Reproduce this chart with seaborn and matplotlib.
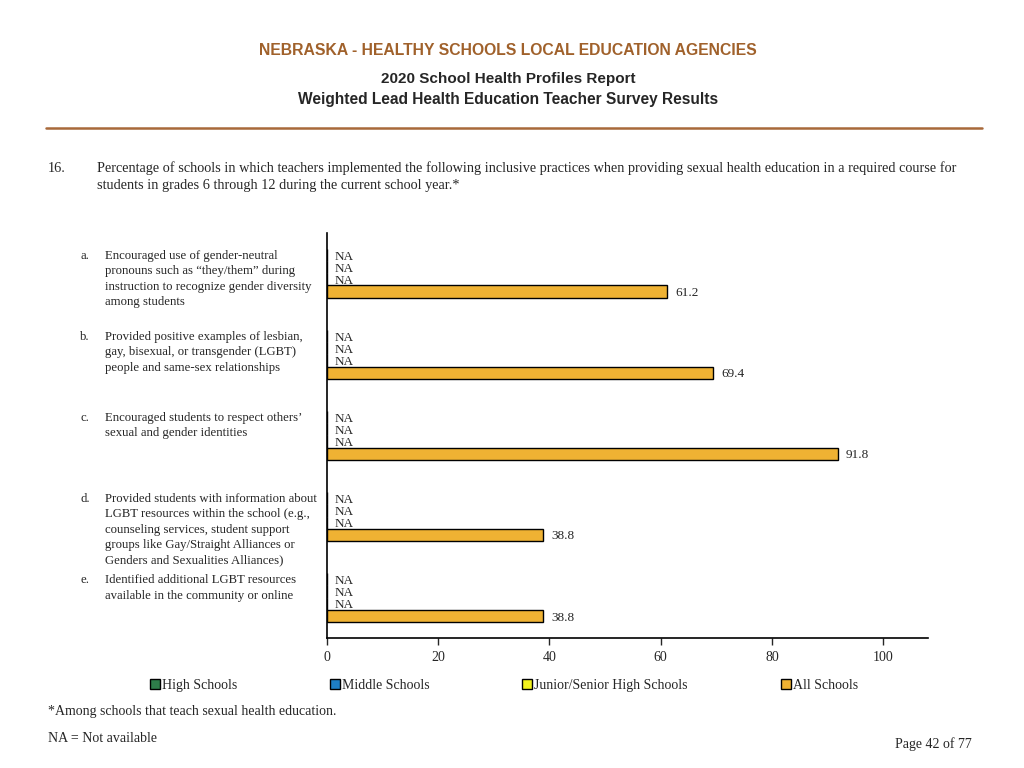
import numpy as np
import pandas as pd
import matplotlib
matplotlib.use("Agg")
import matplotlib.pyplot as plt
import seaborn as sns

# Data
items = ["a", "b", "c", "d", "e"]
item_labels = [
    "Encouraged use of gender-neutral\npronouns such as \u201cthey/them\u201d during\ninstruction to recognize gender diversity\namong students",
    "Provided positive examples of lesbian,\ngay, bisexual, or transgender (LGBT)\npeople and same-sex relationships",
    "Encouraged students to respect others\u2019\nsexual and gender identities",
    "Provided students with information about\nLGBT resources within the school (e.g.,\ncounseling services, student support\ngroups like Gay/Straight Alliances or\nGenders and Sexualities Alliances)",
    "Identified additional LGBT resources\navailable in the community or online",
]
schools = ["High Schools", "Middle Schools", "Junior/Senior High Schools", "All Schools"]
high_schools = [np.nan, np.nan, np.nan, np.nan, np.nan]
middle_schools = [np.nan, np.nan, np.nan, np.nan, np.nan]
junior_senior = [np.nan, np.nan, np.nan, np.nan, np.nan]
all_schools = [61.2, 69.4, 91.8, 38.8, 38.8]
colors = ["#2e7d4a", "#1e7fc6", "#f2f21e", "#efb233"]

rows = []
for s, vals in zip(schools, [high_schools, middle_schools, junior_senior, all_schools]):
    for it, v in zip(items, vals):
        rows.append({"item": it, "school": s, "value": v})
df = pd.DataFrame(rows)
df["plot_value"] = df["value"].fillna(0)

sns.set_style("white")
plt.rcParams["font.family"] = ["Liberation Serif", "DejaVu Serif"]
sans = ["Liberation Sans Narrow", "Liberation Sans", "DejaVu Sans"]

fig = plt.figure(figsize=(10.24, 7.68), dpi=100)
ax = fig.add_axes([0.319, 0.169, 0.587, 0.528])

sns.barplot(data=df, y="item", x="plot_value", hue="school", hue_order=schools,
            order=items, palette=colors, orient="h", width=0.6,
            edgecolor="black", linewidth=1, saturation=1, ax=ax)

ax.set_xlim(0, 108)
ax.set_ylim(4.5, -0.5)
ax.set_xticks([0, 20, 40, 60, 80, 100])
ax.set_yticks([])
ax.set_xlabel("")
ax.set_ylabel("")
ax.tick_params(axis="x", length=5, width=1, pad=4, labelsize=10, direction="out", bottom=True)
for side in ["top", "right"]:
    ax.spines[side].set_visible(False)
for side in ["left", "bottom"]:
    ax.spines[side].set_color("black")
    ax.spines[side].set_linewidth(1.2)

# value labels
for container, s in zip(ax.containers, schools):
    vals = df[df["school"] == s]["value"].tolist()
    for patch, v in zip(container, vals):
        txt = "NA" if np.isnan(v) else f"{v:.1f}"
        ax.text(patch.get_width() + 1.5, patch.get_y() + patch.get_height() / 2 + 0.02, txt,
                ha="left", va="center", fontsize=9.5)

# item labels on the left
for i, (it, lab) in enumerate(zip(items, item_labels)):
    ax.text(-0.41, i - 0.29, it + ".", transform=ax.get_yaxis_transform(),
            ha="left", va="top", fontsize=9.2)
    ax.text(-0.369, i - 0.29, lab, transform=ax.get_yaxis_transform(),
            ha="left", va="top", fontsize=9.2, linespacing=1.38)

sns.move_legend(ax, "center", bbox_to_anchor=(0.492, 0.108), bbox_transform=fig.transFigure,
                ncol=4, frameon=False, title=None, fontsize=10, handlelength=0.7,
                handleheight=0.7, handletextpad=0.15, columnspacing=6.7)

# header
fig.text(0.496, 0.934, "NEBRASKA - HEALTHY SCHOOLS LOCAL EDUCATION AGENCIES", ha="center", va="center",
         fontsize=11.3, fontweight="bold", color="#a0612b", family=sans)
fig.text(0.496, 0.897, "2020 School Health Profiles Report", ha="center", va="center",
         fontsize=11, fontweight="bold", family=sans)
fig.text(0.496, 0.870, "Weighted Lead Health Education Teacher Survey Results", ha="center", va="center",
         fontsize=11.2, fontweight="bold", family=sans)
fig.add_artist(plt.Line2D([0.045, 0.959], [0.833, 0.833], color="#a8693a", linewidth=1.8))

fig.text(0.047, 0.781, "16.", ha="left", va="center", fontsize=10.3)
fig.text(0.095, 0.781, "Percentage of schools in which teachers implemented the following inclusive practices "
         "when providing sexual health education in a required course for", ha="left", va="center", fontsize=10.3)
fig.text(0.095, 0.758, "students in grades 6 through 12 during the current school year.*", ha="left",
         va="center", fontsize=10.3)

fig.text(0.047, 0.073, "*Among schools that teach sexual health education.", ha="left", va="center", fontsize=10)
fig.text(0.047, 0.038, "NA = Not available", ha="left", va="center", fontsize=10)
fig.text(0.949, 0.031, "Page 42 of 77", ha="right", va="center", fontsize=10)

fig.savefig("out.png", dpi=100)
